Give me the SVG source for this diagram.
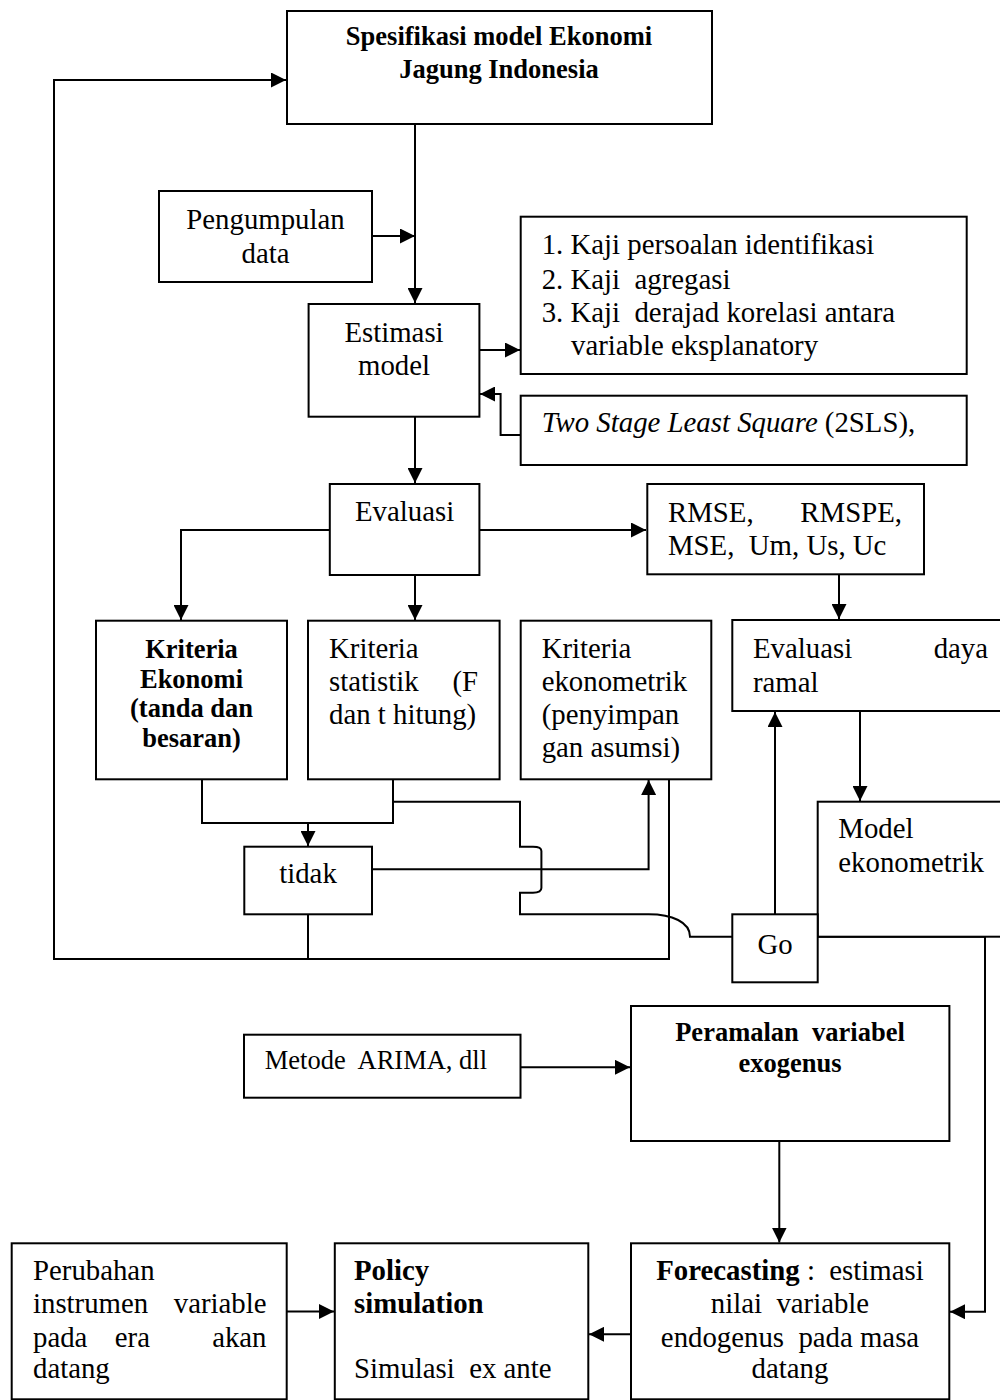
<svg xmlns="http://www.w3.org/2000/svg" width="1000" height="1400" viewBox="0 0 1000 1400" xml:space="preserve">
<style>
.box{fill:#fff;stroke:#000;stroke-width:2}
.ln{fill:none;stroke:#000;stroke-width:2}
text{white-space:pre}
.t{font-family:"Liberation Serif","Times New Roman",serif;font-size:28.8px;fill:#000}
.b{font-family:"Liberation Serif","Times New Roman",serif;font-size:26.5px;font-weight:bold;fill:#000}
.s{font-family:"Liberation Serif","Times New Roman",serif;font-size:26.5px;fill:#000}
.m{text-anchor:middle}
.e{text-anchor:end}
</style>
<defs>
<marker id="ah" markerUnits="userSpaceOnUse" markerWidth="15" markerHeight="15" refX="15" refY="7.5" orient="auto">
<path d="M0,0 L15,7.5 L0,15 z" fill="#000"/>
</marker>
</defs>
<rect width="1000" height="1400" fill="#fff"/>

<g id="connectors">
<path class="ln" d="M669,779 V959 H54 V80 H286" marker-end="url(#ah)"/>
<path class="ln" d="M308,914 V959"/>
<path class="ln" d="M415,124 V303" marker-end="url(#ah)"/>
<path class="ln" d="M372,236 H415" marker-end="url(#ah)"/>
<path class="ln" d="M479,350 H520" marker-end="url(#ah)"/>
<path class="ln" d="M520.7,435 H500.6 V394 H480" marker-end="url(#ah)"/>
<path class="ln" d="M415,417 V483" marker-end="url(#ah)"/>
<path class="ln" d="M479.4,530 H646" marker-end="url(#ah)"/>
<path class="ln" d="M330,530 H181 V620" marker-end="url(#ah)"/>
<path class="ln" d="M415,575 V620" marker-end="url(#ah)"/>
<path class="ln" d="M839,574 V619" marker-end="url(#ah)"/>
<path class="ln" d="M202,779 V823 H393 V779"/>
<path class="ln" d="M308,823 V846" marker-end="url(#ah)"/>
<path class="ln" d="M393,801.7 H520 V846.7 H533 Q541.4,846.7 541.4,851 V888 Q541.4,892.7 533,892.7 H520 V914.3 H648.6 C672,914.3 690,922 690,936.7 H732.3"/>
<path class="ln" d="M372,869.3 H648.6 V780" marker-end="url(#ah)"/>
<path class="ln" d="M775,914.3 V712" marker-end="url(#ah)"/>
<path class="ln" d="M860,711 V801" marker-end="url(#ah)"/>
<path class="ln" d="M817.7,936.7 H985 V1311.7 H950" marker-end="url(#ah)"/>
<path class="ln" d="M520.5,1067.3 H630" marker-end="url(#ah)"/>
<path class="ln" d="M779.3,1141 V1242.5" marker-end="url(#ah)"/>
<path class="ln" d="M286.7,1311.5 H334" marker-end="url(#ah)"/>
<path class="ln" d="M631,1334.3 H589" marker-end="url(#ah)"/>
</g>

<g id="spesifikasi">
<rect class="box" x="287" y="11" width="425" height="113"/>
<text class="b m" x="499" y="45">Spesifikasi model Ekonomi</text>
<text class="b m" x="499" y="77.5">Jagung Indonesia</text>
</g>

<g id="pengumpulan">
<rect class="box" x="159" y="191" width="213" height="91"/>
<text class="t m" x="265.5" y="229.3">Pengumpulan</text>
<text class="t m" x="265.5" y="263.3">data</text>
</g>

<g id="kaji">
<rect class="box" x="520.7" y="216.7" width="446" height="157.3"/>
<text class="t" x="541.7" y="254.3">1. Kaji persoalan identifikasi</text>
<text class="t" x="541.7" y="288.5">2. Kaji  agregasi</text>
<text class="t" x="541.7" y="321.7">3. Kaji  derajad korelasi antara</text>
<text class="t" x="571" y="355">variable eksplanatory</text>
</g>

<g id="estimasi">
<rect class="box" x="308.6" y="304" width="170.8" height="112.7"/>
<text class="t m" x="394" y="341.7">Estimasi</text>
<text class="t m" x="394" y="375">model</text>
</g>

<g id="twostage">
<rect class="box" x="520.7" y="395.7" width="446" height="69.3"/>
<text class="t" x="541.7" y="431.7"><tspan font-style="italic">Two Stage Least Square</tspan> (2SLS),</text>
</g>

<g id="evaluasi">
<rect class="box" x="329.8" y="484" width="149.6" height="91"/>
<text class="t m" x="404.6" y="520.7">Evaluasi</text>
</g>

<g id="rmse">
<rect class="box" x="647.3" y="484" width="276.7" height="90.3"/>
<text class="t" x="668" y="521.7">RMSE,</text>
<text class="t e" x="902" y="521.7">RMSPE,</text>
<text class="t" x="668" y="555">MSE,  Um, Us, Uc</text>
</g>

<g id="kriteria-ekonomi">
<rect class="box" x="96" y="620.7" width="191" height="158.6"/>
<text class="b m" x="191.5" y="658">Kriteria</text>
<text class="b m" x="191.5" y="687.5">Ekonomi</text>
<text class="b m" x="191.5" y="717">(tanda dan</text>
<text class="b m" x="191.5" y="746.7">besaran)</text>
</g>

<g id="kriteria-statistik">
<rect class="box" x="308" y="620.7" width="191.6" height="158.6"/>
<text class="t" x="329" y="658">Kriteria</text>
<text class="t" x="329" y="691">statistik</text>
<text class="t e" x="478" y="691">(F</text>
<text class="t" x="329" y="724">dan t hitung)</text>
</g>

<g id="kriteria-ekonometrik">
<rect class="box" x="520.7" y="620.7" width="190.6" height="158.6"/>
<text class="t" x="541.7" y="658">Kriteria</text>
<text class="t" x="541.7" y="691">ekonometrik</text>
<text class="t" x="541.7" y="724">(penyimpan</text>
<text class="t" x="541.7" y="757">gan asumsi)</text>
</g>

<g id="evaluasi-daya-ramal">
<rect class="box" x="732.3" y="620" width="290" height="91"/>
<text class="t" x="753" y="658">Evaluasi</text>
<text class="t e" x="988" y="658">daya</text>
<text class="t" x="753" y="691.7">ramal</text>
</g>

<g id="model-ekonometrik">
<rect class="box" x="817.7" y="801.7" width="200" height="135"/>
<text class="t" x="838.3" y="838.3">Model</text>
<text class="t" x="838.3" y="871.7">ekonometrik</text>
</g>

<g id="tidak">
<rect class="box" x="244.3" y="846.7" width="127.7" height="67.6"/>
<text class="t m" x="308" y="883">tidak</text>
</g>

<g id="go">
<rect class="box" x="732.3" y="914.3" width="85.4" height="68"/>
<text class="t m" x="775" y="954">Go</text>
</g>

<g id="metode">
<rect class="box" x="244" y="1034.7" width="276.5" height="63"/>
<text class="s" x="264.8" y="1069.3">Metode  ARIMA, dll</text>
</g>

<g id="peramalan">
<rect class="box" x="631" y="1006" width="318.4" height="135"/>
<text class="b m" x="790" y="1040.7">Peramalan  variabel</text>
<text class="b m" x="790" y="1071.7">exogenus</text>
</g>

<g id="perubahan">
<rect class="box" x="11.7" y="1243.3" width="275" height="156"/>
<text class="t" x="33" y="1280">Perubahan</text>
<text class="t" x="33" y="1313.3">instrumen</text>
<text class="t e" x="266.5" y="1313.3">variable</text>
<text class="t" x="33" y="1346.7">pada</text>
<text class="t" x="114.8" y="1346.7">era</text>
<text class="t e" x="266.5" y="1346.7">akan</text>
<text class="t" x="33" y="1378">datang</text>
</g>

<g id="policy">
<rect class="box" x="334.8" y="1243.3" width="253.5" height="156"/>
<text class="t" x="354" y="1280" font-weight="bold">Policy</text>
<text class="t" x="354" y="1313.3" font-weight="bold">simulation</text>
<text class="t" x="354" y="1378">Simulasi  ex ante</text>
</g>

<g id="forecasting">
<rect class="box" x="631" y="1243.3" width="318.3" height="156"/>
<text class="t m" x="790" y="1280"><tspan font-weight="bold">Forecasting</tspan> :  estimasi</text>
<text class="t m" x="790" y="1313.3">nilai  variable</text>
<text class="t m" x="790" y="1346.7">endogenus  pada masa</text>
<text class="t m" x="790" y="1378">datang</text>
</g>
</svg>
